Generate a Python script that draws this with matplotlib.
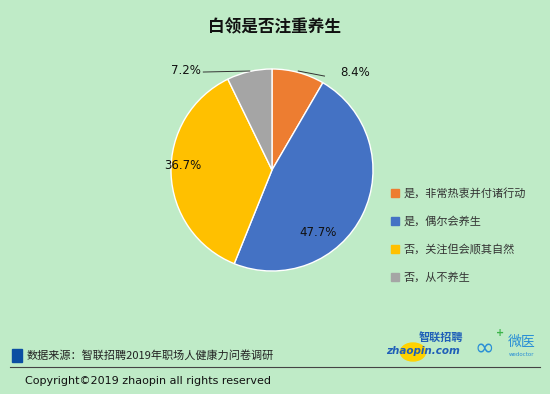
import numpy as np
import matplotlib.pyplot as plt
from matplotlib.patches import Rectangle, Circle
from matplotlib.lines import Line2D

plt.rcParams['font.family'] = ['Noto Sans CJK SC', 'DejaVu Sans']

# Data
labels = ['是，非常热衷并付诸行动', '是，偶尔会养生', '否，关注但会顺其自然', '否，从不养生']
shares = [8.4, 47.7, 36.7, 7.2]
colors = ['#ED7D31', '#4472C4', '#FFC000', '#A5A5A5']
# label anchor points in pie units (text placement only)
label_xy = [(0.82, 0.97), (0.46, -0.62), (-0.88, 0.04), (-0.85, 0.99)]

bg = '#BFEBC7'
fig = plt.figure(figsize=(5.5, 3.94), dpi=100, facecolor=bg)

ax = fig.add_axes([(272 - 101) / 550, 1 - 271 / 394, 202 / 550, 202 / 394])
ax.set_facecolor(bg)
wedges, _ = ax.pie(shares, colors=colors, startangle=90, counterclock=False,
                   wedgeprops=dict(edgecolor='white', linewidth=1.0))
ax.set_xlim(-1, 1)
ax.set_ylim(-1, 1)
ax.set_aspect('equal')
ax.axis('off')

for w, s, (x, y) in zip(wedges, shares, label_xy):
    ax.text(x, y, f'{s}%', ha='center', va='center', fontsize=8.5,
            color='#111111', family=['DejaVu Sans'], clip_on=False)

# leader lines for the two small outside labels
ax.add_line(Line2D([0.26, 0.52], [0.98, 0.93], color='#333333', lw=0.7, clip_on=False))
ax.add_line(Line2D([-0.22, -0.68], [0.98, 0.97], color='#333333', lw=0.7, clip_on=False))

# Title
fig.text(0.5, 1 - 27 / 394, '白领是否注重养生', ha='center', va='center',
         fontsize=12, fontweight='bold', color='#111111')

# Legend
handles = [Rectangle((0, 0), 1, 1, color=c) for c in colors]
fig.legend(handles, labels, loc='upper left', bbox_to_anchor=(0.693, 1 - 178 / 394),
           frameon=False, fontsize=8, handlelength=0.7, handleheight=0.7,
           handletextpad=0.4, labelspacing=1.55, labelcolor='#333333')

# Footer
fig.patches.append(Rectangle((12 / 550, 1 - 362 / 394), 10 / 550, 13 / 394,
                             transform=fig.transFigure, color='#0B4EA2'))
fig.text(27 / 550, 1 - 355 / 394, '数据来源：智联招聘2019年职场人健康力问卷调研',
         ha='left', va='center', fontsize=8, color='#222222')
fig.lines.append(Line2D([10 / 550, 540 / 550], [1 - 367 / 394, 1 - 367 / 394],
                        transform=fig.transFigure, color='#444444', linewidth=0.8))
fig.text(25 / 550, 1 - 381 / 394, 'Copyright©2019 zhaopin all rights reserved',
         ha='left', va='center', fontsize=8, color='#111111', family=['DejaVu Sans'])

# Logos (as text)
fig.patches.append(Circle((413 / 550, 1 - 352 / 394), 9 / 394, transform=fig.transFigure,
                          color='#FFD200', zorder=0))
fig.text(386 / 550, 1 - 351 / 394, 'zhaopin.com', ha='left', va='center',
         fontsize=7.5, fontweight='bold', style='italic', color='#1F5FB8',
         family=['DejaVu Sans'])
fig.text(419 / 550, 1 - 338 / 394, '智联招聘', ha='left', va='center',
         fontsize=8, fontweight='bold', color='#1F5FB8')
fig.text(484 / 550, 1 - 348 / 394, '∞', ha='center', va='center',
         fontsize=17, color='#2A8FD6', family=['DejaVu Sans'])
fig.text(500 / 550, 1 - 333 / 394, '+', ha='center', va='center',
         fontsize=7, fontweight='bold', color='#3CB44A', family=['DejaVu Sans'])
fig.text(508 / 550, 1 - 342 / 394, '微医', ha='left', va='center',
         fontsize=10, color='#2A8FD6')
fig.text(509 / 550, 1 - 355 / 394, 'wedoctor', ha='left', va='center',
         fontsize=4, color='#2A8FD6', family=['DejaVu Sans'])

fig.savefig('out.png', dpi=100, facecolor=bg)
